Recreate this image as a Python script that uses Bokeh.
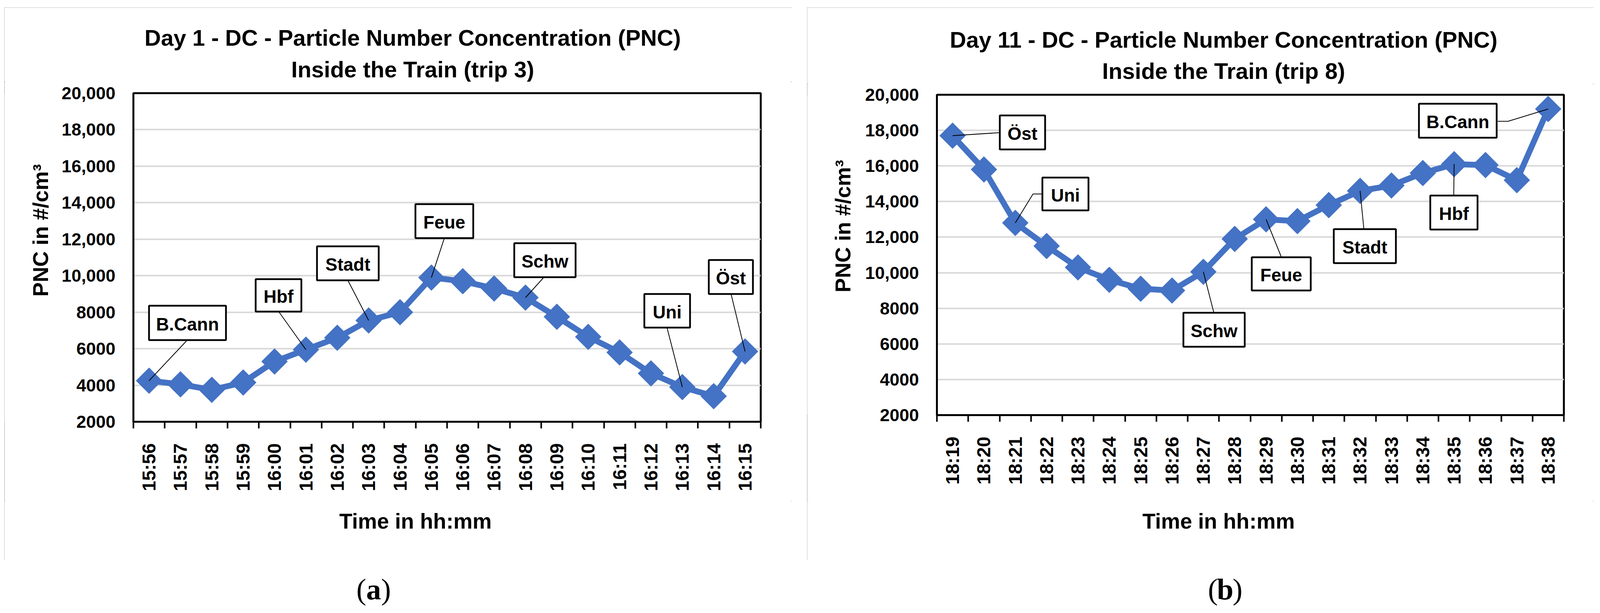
import math
from bokeh.plotting import figure
from bokeh.models import FixedTicker, Range1d, Spacer
from bokeh.layouts import row, column
from bokeh.embed import file_html
from bokeh.resources import INLINE
from bokeh.core.properties import value

# ---------------- data ----------------
times_a = ["15:56", "15:57", "15:58", "15:59", "16:00", "16:01", "16:02", "16:03", "16:04", "16:05",
           "16:06", "16:07", "16:08", "16:09", "16:10", "16:11", "16:12", "16:13", "16:14", "16:15"]
pnc_a = [4250, 4050, 3750, 4150, 5300, 5950, 6600, 7550, 8000, 9900,
         9700, 9300, 8800, 7750, 6650, 5800, 4650, 3900, 3400, 5850]

times_b = ["18:19", "18:20", "18:21", "18:22", "18:23", "18:24", "18:25", "18:26", "18:27", "18:28",
           "18:29", "18:30", "18:31", "18:32", "18:33", "18:34", "18:35", "18:36", "18:37", "18:38"]
pnc_b = [17700, 15800, 12800, 11500, 10300, 9600, 9100, 9000, 10050, 11900,
         13000, 12900, 13800, 14600, 14900, 15600, 16100, 16050, 15200, 19200]

stations_a = ["B.Cann", "Hbf", "Stadt", "Feue", "Schw", "Uni", "Öst"]
station_at_a = [0, 5, 7, 9, 12, 17, 19]
stations_b = ["Öst", "Uni", "Schw", "Feue", "Stadt", "Hbf", "B.Cann"]
station_at_b = [0, 2, 8, 10, 13, 16, 19]

y_ticks = [2000, 4000, 6000, 8000, 10000, 12000, 14000, 16000, 18000, 20000]
y_tick_labels = ["2000", "4000", "6000", "8000", "10,000", "12,000", "14,000", "16,000", "18,000", "20,000"]

title_a = ["Day 1 - DC - Particle Number Concentration (PNC)", "Inside the Train (trip 3)"]
title_b = ["Day 11 - DC - Particle Number Concentration (PNC)", "Inside the Train (trip 8)"]
x_title = "Time in hh:mm"
y_title = "PNC in #/cm³"
captions = ["a", "b"]

# ---------------- layout (page pixel positions) ----------------
FONT = "Liberation Sans"
SERIF = "Liberation Serif"
BLUE = "#4472C4"
BORDER_GREY = "#858585"
PAGE = 8
PANEL_TOP, PANEL_BOTTOM = 27, 1441
CHART_BOTTOM = 1290
CAPTION_BOTTOM = 1561
K_BASE = 0.07   # baseline offset below the visual text centre, in em

layout_a = dict(
    x0=19, x1=2035, ytitle_w=131, chart_top=217, frame=(349, 1955, 246, 1087),
    title_x=1064, title_mid=(100, 181), ytitle=(108, 665), xtitle=(1071, 1338), caption=(964, 1510),
    boxes=[(389, 586, 790, 878), (662, 779, 722, 805), (819, 977, 638, 725), (1071, 1219, 530, 617),
           (1324, 1481, 630, 717), (1657, 1774, 760, 846), (1822, 1935, 673, 760)],
    leaders=[[(485, 880)], [(721, 805)], [(898, 725)], [(1145, 617)],
             [(1400, 717)], [(1715, 846)], [(1879, 760)]],
)
layout_b = dict(
    x0=2074, x1=4088, ytitle_w=131, chart_top=222, frame=(2406, 4011, 250, 1070),
    title_x=3140, title_mid=(105, 185), ytitle=(2162, 660), xtitle=(3127, 1338), caption=(3144, 1510),
    boxes=[(2567, 2683, 303, 390), (2676, 2794, 462, 546), (3037, 3194, 808, 895), (3212, 3363, 666, 751),
           (3422, 3581, 594, 681), (3669, 3790, 508, 595), (3640, 3839, 273, 360)],
    leaders=[[(2567, 347)], [(2676, 504), (2652, 504)], [(3115, 808)], [(3288, 666)],
             [(3499, 594)], [(3729, 508)], [(3842, 318), (3868, 318)]],
)


def text_fig(x0, x1, y0, y1):
    """A bare figure whose data coordinates equal page pixels (y negated)."""
    f = figure(width=x1 - x0, height=y1 - y0, x_range=Range1d(x0, x1), y_range=Range1d(-y1, -y0),
               x_axis_type=None, y_axis_type=None, output_backend="svg", toolbar_location=None,
               min_border=0, title=None)
    f.outline_line_color = None
    f.background_fill_color = "white"
    f.border_fill_color = "white"
    return f


def put_text(f, x, y_mid, txt, size_px, font=FONT, style="bold", vertical=False):
    off = K_BASE * size_px
    if vertical:
        x, y, angle = x + off, y_mid, math.pi / 2
    else:
        x, y, angle = x, y_mid + off, 0.0
    f.text(x=[x], y=[-y], text=[txt], angle=angle, text_align="center", text_baseline="alphabetic",
           text_font=value(font), text_font_style=style, text_font_size=f"{size_px}px",
           text_color="black")


def make_chart(times, pnc, stations, station_at, L):
    cx0 = L["x0"] + L["ytitle_w"]
    top = L["chart_top"]
    W = L["x1"] - cx0
    H = CHART_BOTTOM - top
    FL, FR, FT, FB = L["frame"]
    n = len(times)
    y0, y1 = y_ticks[0], y_ticks[-1]

    def X(ix):
        return -0.5 + (ix - FL) / (FR - FL) * n

    def Y(iy):
        return y0 + (FB - iy) / (FB - FT) * (y1 - y0)

    p = figure(width=W, height=H, x_range=Range1d(-0.5, n - 0.5), y_range=Range1d(y0, y1),
               output_backend="svg", toolbar_location=None, title=None,
               min_border_left=FL - cx0, min_border_right=L["x1"] - FR,
               min_border_top=FT - top, min_border_bottom=CHART_BOTTOM - FB)
    p.background_fill_color = "white"
    p.border_fill_color = "white"
    p.outline_line_color = "black"
    p.outline_line_width = 5

    xa = p.xaxis[0]
    xa.ticker = FixedTicker(ticks=list(range(n)), minor_ticks=[i - 0.5 for i in range(n + 1)])
    xa.major_label_overrides = {i: t for i, t in enumerate(times)}
    xa.major_label_orientation = math.pi / 2
    xa.major_tick_line_color = None
    xa.major_tick_out = 0
    xa.major_tick_in = 0
    xa.minor_tick_line_color = "black"
    xa.minor_tick_line_width = 4
    xa.minor_tick_out = 17
    xa.minor_tick_in = 0
    xa.axis_line_color = "black"
    xa.axis_line_width = 5
    xa.major_label_standoff = 38
    xa.major_label_text_font = FONT
    xa.major_label_text_font_style = "bold"
    xa.major_label_text_font_size = "48px"
    xa.major_label_text_color = "black"

    ya = p.yaxis[0]
    ya.ticker = FixedTicker(ticks=y_ticks, minor_ticks=[])
    ya.major_label_overrides = {t: s for t, s in zip(y_ticks, y_tick_labels)}
    ya.major_tick_line_color = None
    ya.major_tick_out = 0
    ya.major_tick_in = 0
    ya.minor_tick_line_color = None
    ya.axis_line_color = "black"
    ya.axis_line_width = 5
    ya.major_label_standoff = 46
    ya.major_label_text_font = FONT
    ya.major_label_text_font_style = "bold"
    ya.major_label_text_font_size = "45px"
    ya.major_label_text_color = "black"

    p.xgrid.grid_line_color = None
    p.ygrid.grid_line_color = "#d9d9d9"
    p.ygrid.grid_line_width = 4

    xs = list(range(n))
    p.line(xs, pnc, line_color=BLUE, line_width=15)
    p.scatter(xs, pnc, marker="square", size=47, angle=math.pi / 4,
              fill_color=BLUE, line_color=BLUE)

    lx, ly = [], []
    for k, si in enumerate(station_at):
        pts = L["leaders"][k]
        lx.append([X(a) for a, b in pts] + [si])
        ly.append([Y(b) for a, b in pts] + [pnc[si]])
    p.multi_line(lx, ly, line_color="black", line_width=2)

    bx = L["boxes"]
    p.quad(left=[X(b[0]) for b in bx], right=[X(b[1]) for b in bx],
           top=[Y(b[2]) for b in bx], bottom=[Y(b[3]) for b in bx],
           fill_color="white", line_color="black", line_width=4.5)
    p.text(x=[X((b[0] + b[1]) / 2) for b in bx],
           y=[Y((b[2] + b[3]) / 2 + K_BASE * 46) for b in bx],
           text=stations, text_align="center", text_baseline="alphabetic",
           text_font=value(FONT), text_font_style="bold", text_font_size="46px", text_color="black")
    return p


def make_panel(times, pnc, stations, station_at, titles, L):
    x0, x1 = L["x0"], L["x1"]
    top = L["chart_top"]
    tf = text_fig(x0, x1, PANEL_TOP, top)
    for txt, mid in zip(titles, L["title_mid"]):
        put_text(tf, L["title_x"], mid, txt, 58)

    yf = text_fig(x0, x0 + L["ytitle_w"], top, CHART_BOTTOM)
    put_text(yf, L["ytitle"][0], L["ytitle"][1], y_title, 55, vertical=True)

    chart = make_chart(times, pnc, stations, station_at, L)

    xf = text_fig(x0, x1, CHART_BOTTOM, PANEL_BOTTOM)
    put_text(xf, L["xtitle"][0], L["xtitle"][1], x_title, 55)

    return column(tf, row(yf, chart), xf,
                  styles={"outline": "3px solid " + BORDER_GREY, "outline-offset": "-3px"})


panel_a = make_panel(times_a, pnc_a, stations_a, station_at_a, title_a, layout_a)
panel_b = make_panel(times_b, pnc_b, stations_b, station_at_b, title_b, layout_b)

cap = text_fig(PAGE, 4104, PANEL_BOTTOM, CAPTION_BOTTOM)
for letter, L in zip(captions, (layout_a, layout_b)):
    cx, cy = L["caption"]
    put_text(cap, cx - 31.7, cy, "(", 76, font=SERIF, style="normal")
    put_text(cap, cx, cy, letter, 76, font=SERIF, style="bold")
    put_text(cap, cx + 31.7, cy, ")", 76, font=SERIF, style="normal")

page = column(
    Spacer(width=10, height=PANEL_TOP - PAGE),
    row(Spacer(width=layout_a["x0"] - PAGE, height=10), panel_a,
        Spacer(width=layout_b["x0"] - layout_a["x1"], height=10), panel_b),
    cap,
)

open("out.html", "w").write(file_html(page, INLINE))
